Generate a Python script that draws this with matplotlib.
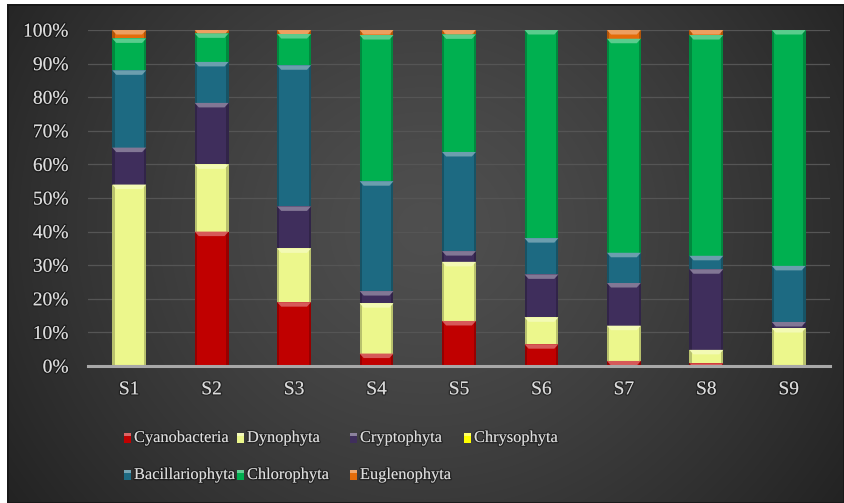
import numpy as np
import matplotlib
matplotlib.use("Agg")
import matplotlib.pyplot as plt
from matplotlib.patches import Polygon, Rectangle
from matplotlib.colors import to_rgb
import matplotlib.patheffects as pe

# Phytoplankton community composition per site (% of total)
sites = ["S1", "S2", "S3", "S4", "S5", "S6", "S7", "S8", "S9"]
cyanobacteria = [0.3, 40.0, 19.0, 3.7, 13.4, 6.5, 1.5, 0.8, 0.3]
dynophyta = [53.7, 20.0, 16.0, 15.0, 17.6, 8.0, 10.5, 4.0, 11.0]
cryptophyta = [11.0, 18.3, 12.5, 3.6, 3.2, 12.8, 12.7, 24.0, 1.8]
chrysophyta = [0.0, 0.0, 0.0, 0.0, 0.0, 0.0, 0.0, 0.0, 0.0]
bacillariophyta = [23.0, 12.2, 42.0, 32.7, 29.5, 10.8, 9.0, 4.0, 16.7]
chlorophyta = [9.5, 8.5, 9.3, 43.5, 35.0, 62.0, 63.7, 65.7, 70.2]
euglenophyta = [2.5, 1.0, 1.2, 1.5, 1.3, 0.0, 2.6, 1.5, 0.0]

group_names = ["Cyanobacteria", "Dynophyta", "Cryptophyta", "Chrysophyta",
               "Bacillariophyta", "Chlorophyta", "Euglenophyta"]
group_values = [cyanobacteria, dynophyta, cryptophyta, chrysophyta,
                bacillariophyta, chlorophyta, euglenophyta]
group_colors = ["#c00000", "#ecf78c", "#3f2e5c", "#ffff00",
                "#1d6a82", "#00b050", "#e46c0a"]

W, H = 844, 503
fig = plt.figure(figsize=(W / 100, H / 100), dpi=100, facecolor="white")

# dark radial backdrop
bg = fig.add_axes([7 / W, 0, 1 - 7 / W, 1 - 4 / H])
gx, gy = np.meshgrid(np.linspace(0, 1, 420), np.linspace(0, 1, 250))
d = np.sqrt(((gx - 0.5) / 0.6) ** 2 + ((gy - 0.45) / 0.95) ** 2)
lev = np.clip(0.31 - 0.17 * d ** 1.3, 0.13, 0.32)
bg.imshow(np.dstack([lev, lev, lev]), extent=[0, 1, 0, 1], aspect="auto",
          interpolation="bicubic")
bg.set_axis_off()
bg.add_patch(Rectangle((0, 0), 1, 1, transform=bg.transAxes, fill=False,
                       ec="#181818", lw=2))

ax = fig.add_axes([88 / W, 1 - 366 / H, (830 - 88) / W, (366 - 30) / H])
ax.set_facecolor("none")

vals = np.array(group_values, dtype=float)
vals = vals / vals.sum(axis=0) * 100.0
x = np.arange(len(sites))
bw = 0.41

px_per_unit_y = (366 - 30) / 100.0
px_per_unit_x = (830 - 88) / len(sites)
hl = 4.5 / px_per_unit_y       # highlight height in data units
inset = 4.0 / px_per_unit_x    # bevel inset in data units


def lighten(c, f):
    r = np.array(to_rgb(c))
    return tuple(r + (1 - r) * f)


def darken(c, f):
    return tuple(np.array(to_rgb(c)) * (1 - f))


bottom = np.zeros(len(sites))
for name, v, col in zip(group_names, vals, group_colors):
    bars = ax.bar(x, v, bw, bottom=bottom, color=col, label=name,
                  zorder=3, linewidth=0)
    for rect in bars:
        h = rect.get_height()
        if h <= 0.05:
            continue
        x0 = rect.get_x()
        x1 = x0 + rect.get_width()
        top = rect.get_y() + h
        y0 = rect.get_y()
        # darker side edges
        for sx, ex in ((x0, x0 + inset * 0.55), (x1 - inset * 0.55, x1)):
            ax.add_patch(Rectangle((sx, y0), ex - sx, h, color=darken(col, 0.22),
                                   lw=0, zorder=3.2))
        # lighter bevel on the top of each segment
        hh = min(hl, h)
        ii = inset * hh / hl
        ax.add_patch(Polygon([(x0, top), (x1, top), (x1 - ii, top - hh),
                              (x0 + ii, top - hh)], closed=True,
                             color=lighten(col, 0.35), lw=0, zorder=3.4))
    bottom += v

ax.set_xlim(-0.5, len(sites) - 0.5)
ax.set_ylim(0, 100)
ax.set_yticks(np.arange(0, 101, 10))
ax.set_yticklabels([f"{t}%" for t in range(0, 101, 10)])
ax.set_xticks(x)
ax.set_xticklabels(sites)
ax.grid(axis="y", color="#555555", lw=0.9, zorder=0)
ax.set_axisbelow(True)
for s in ["top", "right", "left"]:
    ax.spines[s].set_visible(False)
ax.spines["bottom"].set_color("#a8a8a8")
ax.spines["bottom"].set_linewidth(2.2)
ax.spines["bottom"].set_zorder(5)
ax.tick_params(length=0, colors="#dcdcdc", labelsize=14)
ax.tick_params(axis="y", pad=14)
ax.tick_params(axis="x", pad=11)
glow = [pe.withStroke(linewidth=2, foreground=(0, 0, 0, 0.35))]
for lbl in ax.get_xticklabels() + ax.get_yticklabels():
    lbl.set_fontfamily("Liberation Serif")
    lbl.set_path_effects(glow)

# legend laid out on an even grid, row by row
col_x = [124, 237, 350, 464]
row_y = [438, 475]
for i, (name, col) in enumerate(zip(group_names, group_colors)):
    r, c = divmod(i, 4)
    px, py = col_x[c], row_y[r]
    fx, fy = px / W, 1 - py / H
    mw, mh = 7 / W, 10 / H
    fig.add_artist(Rectangle((fx, fy - mh / 2), mw, mh, transform=fig.transFigure,
                             color=col, lw=0))
    fig.add_artist(Rectangle((fx, fy + mh / 2 - 3 / H), mw, 3 / H,
                             transform=fig.transFigure, color=lighten(col, 0.4),
                             lw=0))
    t = fig.text(fx + 10 / W, fy, name, ha="left", va="center",
                 family="Liberation Serif", fontsize=11.8, color="#dcdcdc")
    t.set_path_effects(glow)

fig.savefig("out.png", dpi=100, facecolor=fig.get_facecolor())
